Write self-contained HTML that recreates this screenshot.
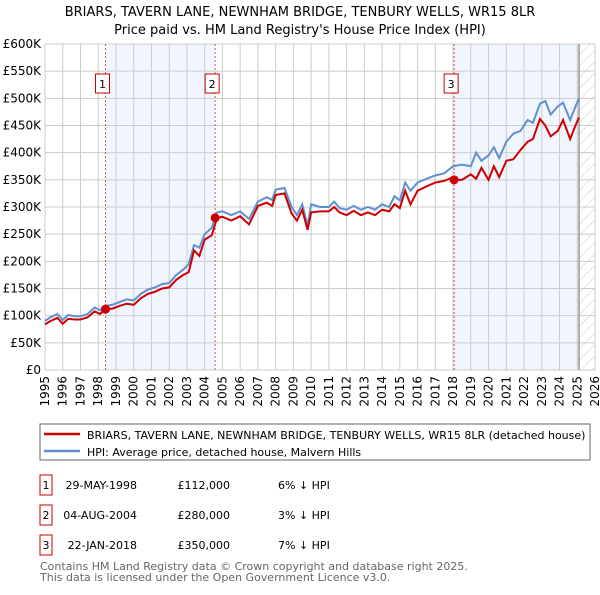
<!DOCTYPE html>
<html><head><meta charset="utf-8"><style>
body{margin:0;background:#fff;font-family:"Liberation Sans","DejaVu Sans",sans-serif;}
svg text{font-family:"DejaVu Sans","Liberation Sans",sans-serif;}
</style></head><body>
<svg id="c" width="600" height="590" viewBox="0 0 600 590" xmlns="http://www.w3.org/2000/svg">
<defs><pattern id="hatch" width="8" height="8" patternUnits="userSpaceOnUse" patternTransform="rotate(45)"><line x1="0" y1="0" x2="0" y2="8" stroke="#ccc" stroke-width="1"/></pattern></defs>
<text x="300" y="16" text-anchor="middle" font-size="13">BRIARS, TAVERN LANE, NEWNHAM BRIDGE, TENBURY WELLS, WR15 8LR</text>
<text x="300" y="34" text-anchor="middle" font-size="13">Price paid vs. HM Land Registry's House Price Index (HPI)</text>
<g id="plot"></g>
<rect x="40" y="424" width="550" height="36" fill="#fff" stroke="#666"/>
<line x1="44" y1="434" x2="80" y2="434" stroke="#cc0000" stroke-width="2.5"/>
<text x="87" y="439" font-size="11">BRIARS, TAVERN LANE, NEWNHAM BRIDGE, TENBURY WELLS, WR15 8LR (detached house)</text>
<line x1="44" y1="451" x2="80" y2="451" stroke="#6090d0" stroke-width="2.5"/>
<text x="87" y="456" font-size="11">HPI: Average price, detached house, Malvern Hills</text>
<g font-size="11">
<rect x="40" y="475" width="12" height="20" fill="#fff" stroke="#cc0000"/><text x="46" y="489" text-anchor="middle">1</text>
<text x="137" y="489" text-anchor="end">29-MAY-1998</text><text x="230" y="489" text-anchor="end">£112,000</text><text x="278" y="489">6% ↓ HPI</text>
<rect x="40" y="505" width="12" height="20" fill="#fff" stroke="#cc0000"/><text x="46" y="519" text-anchor="middle">2</text>
<text x="137" y="519" text-anchor="end">04-AUG-2004</text><text x="230" y="519" text-anchor="end">£280,000</text><text x="278" y="519">3% ↓ HPI</text>
<rect x="40" y="535" width="12" height="20" fill="#fff" stroke="#cc0000"/><text x="46" y="549" text-anchor="middle">3</text>
<text x="137" y="549" text-anchor="end">22-JAN-2018</text><text x="230" y="549" text-anchor="end">£350,000</text><text x="278" y="549">7% ↓ HPI</text>
</g>
<text x="40" y="570" font-size="11" fill="#666">Contains HM Land Registry data © Crown copyright and database right 2025.</text>
<text x="40" y="581" font-size="11" fill="#666">This data is licensed under the Open Government Licence v3.0.</text>
</svg>
<script>
const hpiYears=[1995.0,1995.3,1995.7,1996.0,1996.3,1996.7,1997.0,1997.4,1997.8,1998.1,1998.4,1998.8,1999.2,1999.6,2000.0,2000.4,2000.8,2001.2,2001.6,2002.0,2002.4,2002.8,2003.1,2003.4,2003.7,2004.0,2004.4,2004.7,2005.0,2005.5,2006.0,2006.5,2007.0,2007.5,2007.8,2008.0,2008.5,2008.9,2009.2,2009.5,2009.8,2010.0,2010.5,2011.0,2011.3,2011.6,2012.0,2012.4,2012.8,2013.2,2013.6,2014.0,2014.4,2014.7,2015.0,2015.3,2015.6,2016.0,2016.5,2017.0,2017.5,2018.0,2018.5,2019.0,2019.3,2019.6,2020.0,2020.3,2020.6,2021.0,2021.4,2021.8,2022.2,2022.5,2022.9,2023.2,2023.5,2023.9,2024.2,2024.6,2024.9,2025.1];
const hpiValues=[90,97,103,92,101,99,99,103,115,110,118,120,125,130,128,140,148,152,158,160,175,185,195,230,225,250,262,290,292,285,292,278,310,318,313,332,335,300,285,305,265,305,300,300,310,298,295,302,295,300,295,305,300,320,312,345,330,345,352,358,362,375,378,375,400,385,395,410,390,420,435,440,460,455,490,495,470,485,492,460,485,500];
const ppYears=[1995.0,1995.3,1995.7,1996.0,1996.3,1996.7,1997.0,1997.4,1997.8,1998.1,1998.4,1998.8,1999.2,1999.6,2000.0,2000.4,2000.8,2001.2,2001.6,2002.0,2002.4,2002.8,2003.1,2003.4,2003.7,2004.0,2004.4,2004.7,2005.0,2005.5,2006.0,2006.5,2007.0,2007.5,2007.8,2008.0,2008.5,2008.9,2009.2,2009.5,2009.8,2010.0,2010.5,2011.0,2011.3,2011.6,2012.0,2012.4,2012.8,2013.2,2013.6,2014.0,2014.4,2014.7,2015.0,2015.3,2015.6,2016.0,2016.5,2017.0,2017.5,2018.0,2018.1,2018.5,2019.0,2019.3,2019.6,2020.0,2020.3,2020.6,2021.0,2021.4,2021.8,2022.2,2022.5,2022.9,2023.2,2023.5,2023.9,2024.2,2024.6,2024.9,2025.1];
const ppValues=[84,90,96,85,94,93,93,97,108,103,112,113,118,122,120,132,140,144,150,152,166,175,180,220,210,240,248,280,282,275,283,268,302,308,302,322,325,288,275,295,258,290,292,292,300,290,285,293,285,290,285,295,292,305,298,330,305,330,338,345,348,355,350,350,360,352,372,350,375,355,385,388,405,420,425,462,450,430,440,460,425,450,465];
const saleYears=[1998.41,2004.59,2018.06];
const salePrices=[112,280,350];
const saleLabels=["1","2","3"];
const yTicks=[0,50,100,150,200,250,300,350,400,450,500,550,600];
const yTickLabels=["£0","£50K","£100K","£150K","£200K","£250K","£300K","£350K","£400K","£450K","£500K","£550K","£600K"];
const xTicks=[1995,1996,1997,1998,1999,2000,2001,2002,2003,2004,2005,2006,2007,2008,2009,2010,2011,2012,2013,2014,2015,2016,2017,2018,2019,2020,2021,2022,2023,2024,2025,2026];
const dataEnd=2025.1;

const L=45,R=595,T=44,B=370;
const x=v=>L+(v-1995)/(2026-1995)*(R-L);
const y=v=>B-v/600*(B-T);
const NS="http://www.w3.org/2000/svg";
const g=document.getElementById('plot');
function mk(t,a){const e=document.createElementNS(NS,t);for(const k in a)e.setAttribute(k,a[k]);g.appendChild(e);return e;}
let s=mk('rect',{x:x(saleYears[0]),y:T,width:x(saleYears[1])-x(saleYears[0]),height:B-T,fill:'#eef3fc',opacity:0.8});


s=mk('rect',{x:x(saleYears[2]),y:T,width:x(dataEnd)-x(saleYears[2]),height:B-T,fill:'#eef3fc',opacity:0.8});


s=mk('rect',{x:x(dataEnd),y:T,width:R-x(dataEnd),height:B-T,fill:'url(#hatch)'});


yTicks.forEach((v,i)=>{
 const l=mk('line',{x1:L,x2:R,y1:y(v),y2:y(v),stroke:'#ccc','stroke-width':1});
 
 
 const t=mk('text',{x:L-4,y:y(v)+4,'text-anchor':'end','font-size':12});
 
 
 t.textContent=yTickLabels[i];
});
xTicks.forEach(v=>{
 const l=mk('line',{x1:x(v),x2:x(v),y1:T,y2:B,stroke:'#ccc','stroke-width':1});
 
 
 const t=mk('text',{x:0,y:0,'text-anchor':'end','font-size':12,transform:`translate(${x(v)+4},${B+6}) rotate(-90)`});
 
 
 t.textContent=v;
});
const dl=mk('line',{x1:x(dataEnd),x2:x(dataEnd),y1:T,y2:B,stroke:'#999','stroke-width':1.5});


saleYears.forEach((v,i)=>{
 const l=mk('line',{x1:x(v),x2:x(v),y1:T,y2:B,stroke:'#e05555','stroke-width':1,'stroke-dasharray':'2,2'});
 
 
 const r=mk('rect',{x:x(v)-10,y:74,width:14,height:19,fill:'#fff',stroke:'#cc0000'});
 
 
 const t=mk('text',{x:x(v)-3,y:88,'text-anchor':'middle','font-size':11});
 
 
 t.textContent=saleLabels[i];
});
const hp=mk('polyline',{points:hpiYears.map((v,i)=>x(v)+','+y(hpiValues[i])).join(' '),fill:'none',stroke:'#6090d0','stroke-width':2});


const pp=mk('polyline',{points:ppYears.map((v,i)=>x(v)+','+y(ppValues[i])).join(' '),fill:'none',stroke:'#cc0000','stroke-width':2});


saleYears.forEach((v,i)=>{
 const c=mk('circle',{cx:x(v),cy:y(salePrices[i]),r:4.5,fill:'#cc0000'});
 
 
});
</script>
</body></html>
